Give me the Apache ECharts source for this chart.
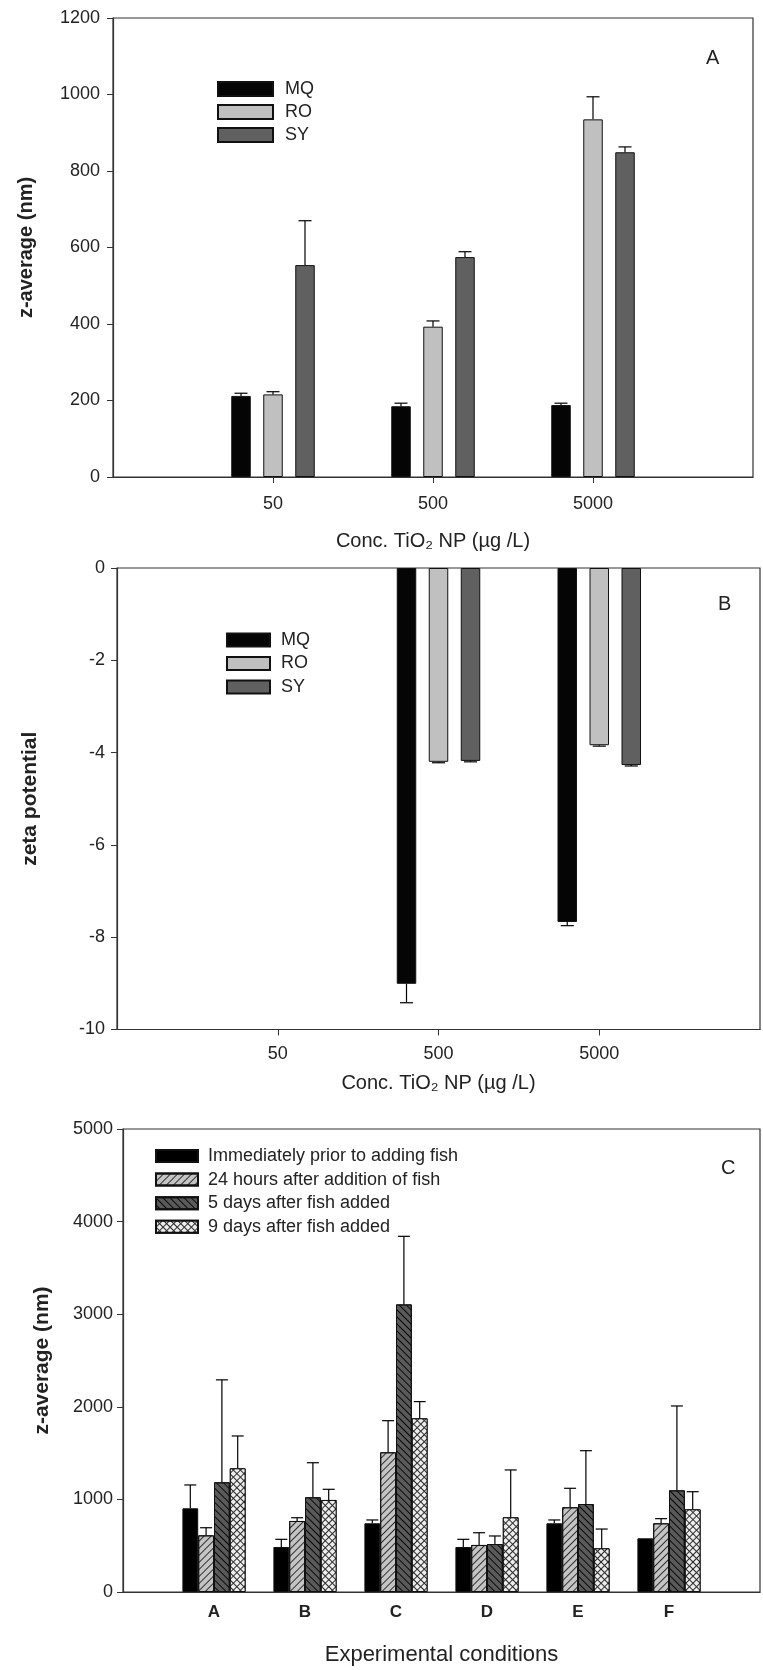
<!DOCTYPE html>
<html><head><meta charset="utf-8">
<script src="https://cdn.jsdelivr.net/npm/echarts@6/dist/echarts.min.js"></script>
<style>html,body{margin:0;padding:0;background:#fff}#c{width:763px;height:1670px}</style>
</head><body><div id="c"></div>
<script>
// ---------- Panel A: z-average vs concentration ----------
const concCategories = ['', '50', '500', '5000', ''];
const waterNames = ['MQ', 'RO', 'SY'];
const zAvgMQ    = [null, 212, 185, 188, null];
const zAvgMQErr = [null, 7, 8, 5, null];
const zAvgRO    = [null, 216, 393, 935, null];
const zAvgROErr = [null, 7, 15, 59, null];
const zAvgSY    = [null, 554, 575, 849, null];
const zAvgSYErr = [null, 116, 14, 14, null];

// ---------- Panel B: zeta potential ----------
const zetaMQ    = [null, null, -9.01, -7.67, null];
const zetaMQErr = [null, null, 0.41, 0.08, null];
const zetaRO    = [null, null, -4.20, -3.84, null];
const zetaROErr = [null, null, 0.02, 0.02, null];
const zetaSY    = [null, null, -4.18, -4.27, null];
const zetaSYErr = [null, null, 0.02, 0.02, null];

// ---------- Panel C: z-average over time ----------
const condCategories = ['', 'A', 'B', 'C', 'D', 'E', 'F', ''];
const timeNames = ['Immediately prior to adding fish', '24 hours after addition of fish', '5 days after fish added', '9 days after fish added'];
const tImmediate    = [null, 904, 486, 742, 486, 742, 580, null];
const tImmediateErr = [null, 252, 83, 36, 83, 36, null, null];
const t24h          = [null, 612, 767, 1509, 508, 915, 742, null];
const t24hErr       = [null, 82, 35, 341, 132, 205, 50, null];
const t5d           = [null, 1185, 1023, 3106, 518, 950, 1098, null];
const t5dErr        = [null, 1106, 373, 735, 87, 576, 911, null];
const t9d           = [null, 1336, 994, 1876, 807, 472, 893, null];
const t9dErr        = [null, 349, 115, 180, 511, 208, 190, null];

const FONT = "'Liberation Sans', Arial, sans-serif";
const TXT = '#222';
const AX = '#333';

function errSeries(vals, errs, xi, offset, cap) {
  const data = [];
  vals.forEach((v, i) => { if (v != null && errs[i] != null) data.push([i, v, errs[i]]); });
  return {
    type: 'custom', xAxisIndex: xi, yAxisIndex: xi, silent: true, z: 5,
    encode: {x: 0, y: 1},
    data: data,
    renderItem: function (params, api) {
      const i = api.value(0), v = api.value(1), e = api.value(2);
      const base = api.coord([i, v]);
      const tip = api.coord([i, v < 0 ? v - e : v + e]);
      const x = base[0] + offset;
      const st = {stroke: '#000', lineWidth: 1.2};
      return {type: 'group', children: [
        {type: 'line', shape: {x1: x, y1: base[1], x2: x, y2: tip[1]}, style: st},
        {type: 'line', shape: {x1: x - cap / 2, y1: tip[1], x2: x + cap / 2, y2: tip[1]}, style: st}
      ]};
    }
  };
}

function barSeries(name, vals, xi, color, bw, gap, decal) {
  const s = {
    type: 'bar', name: name, xAxisIndex: xi, yAxisIndex: xi, data: vals,
    barWidth: bw, barGap: gap,
    itemStyle: {color: color, borderColor: '#111', borderWidth: 1}
  };
  if (decal) s.itemStyle.decal = decal;
  return s;
}

function yAxisBase(gi, min, max, interval, name, nameGap, nameSize, labelMargin) {
  return {
    gridIndex: gi, type: 'value', min: min, max: max, interval: interval,
    name: name, nameLocation: 'middle', nameGap: nameGap,
    nameTextStyle: {fontFamily: FONT, fontSize: nameSize, fontWeight: 'bold', color: TXT},
    axisLine: {show: true, lineStyle: {color: AX, width: 1.2}},
    axisTick: {show: true, length: 6, lineStyle: {color: AX}},
    axisLabel: {fontFamily: FONT, fontSize: 18, color: TXT, margin: labelMargin, formatter: v => String(v)},
    splitLine: {show: false}
  };
}

const colMQ = '#050505', colRO = '#c0c0c0', colSY = '#606060';

const decal24 = {symbol: 'rect', symbolSize: 1, color: 'rgba(20,20,20,0.85)', dashArrayX: [1, 0], dashArrayY: [1, 4], rotation: -Math.PI / 4};
const decal5d = {symbol: 'rect', symbolSize: 1, color: 'rgba(0,0,0,0.9)', dashArrayX: [1, 0], dashArrayY: [1, 4], rotation: Math.PI / 4};
const decal9d = {symbol: 'rect', symbolSize: 1, color: '#ededed', dashArrayX: [4, 1], dashArrayY: [4, 1], rotation: Math.PI / 4};

const bwA = 19.5, gapA = 12.5;
const offA = (bwA + gapA);
const bwC = 15.8;

const option = {
  animation: false,
  backgroundColor: '#fff',
  textStyle: {fontFamily: FONT},
  grid: [
    {left: 113, top: 18, width: 640, height: 459, show: true, borderColor: AX, borderWidth: 1.2, backgroundColor: 'transparent'},
    {left: 117, top: 568, width: 643, height: 461.5, show: true, borderColor: AX, borderWidth: 1.2, backgroundColor: 'transparent'},
    {left: 123, top: 1129, width: 647, height: 463, show: true, borderColor: AX, borderWidth: 1.2, backgroundColor: 'transparent'}
  ],
  xAxis: [
    {gridIndex: 0, type: 'category', data: concCategories, boundaryGap: false,
     name: 'Conc. TiO\u2082 NP (\u00b5g /L)', nameLocation: 'middle', nameGap: 54,
     nameTextStyle: {fontFamily: FONT, fontSize: 20, color: TXT},
     axisLine: {lineStyle: {color: AX, width: 1.2}},
     axisTick: {show: true, length: 6, interval: (i, v) => v !== '', lineStyle: {color: AX}},
     axisLabel: {fontFamily: FONT, fontSize: 18, color: TXT, margin: 18, interval: 0}},
    {gridIndex: 1, type: 'category', data: concCategories, boundaryGap: false,
     name: 'Conc. TiO\u2082 NP (\u00b5g /L)', nameLocation: 'middle', nameGap: 44,
     nameTextStyle: {fontFamily: FONT, fontSize: 20, color: TXT},
     axisLine: {onZero: false, lineStyle: {color: AX, width: 1.2}},
     axisTick: {show: true, length: 6, interval: (i, v) => v !== '', lineStyle: {color: AX}},
     axisLabel: {fontFamily: FONT, fontSize: 18, color: TXT, margin: 16, interval: 0}},
    {gridIndex: 2, type: 'category', data: condCategories, boundaryGap: false,
     name: 'Experimental conditions', nameLocation: 'middle', nameGap: 52,
     nameTextStyle: {fontFamily: FONT, fontSize: 22, color: TXT},
     axisLine: {lineStyle: {color: AX, width: 1.2}},
     axisTick: {show: false},
     axisLabel: {fontFamily: FONT, fontSize: 17, fontWeight: 'bold', color: TXT, margin: 12, interval: 0}}
  ],
  yAxis: [
    yAxisBase(0, 0, 1200, 200, 'z-average (nm)', 77, 20, 13),
    yAxisBase(1, -10, 0, 2, 'zeta potential', 76, 21, 12),
    yAxisBase(2, 0, 5000, 1000, 'z-average (nm)', 70, 21, 10)
  ],
  legend: [
    {orient: 'vertical', left: 212, top: 75, itemWidth: 55, itemHeight: 14, itemGap: 5,
     icon: 'rect', data: waterNames, selectedMode: false,
     textStyle: {fontFamily: FONT, fontSize: 18, color: TXT, lineHeight: 18, padding: [0, 0, 0, 7]}},
    {orient: 'vertical', left: 221, top: 626, itemWidth: 43, itemHeight: 13, itemGap: 5.5,
     icon: 'rect', data: waterNames, selectedMode: false,
     textStyle: {fontFamily: FONT, fontSize: 18, color: TXT, lineHeight: 18, padding: [0, 0, 0, 6]}},
    {orient: 'vertical', left: 150, top: 1142, itemWidth: 42, itemHeight: 12, itemGap: 5.6,
     icon: 'rect', data: timeNames, selectedMode: false,
     textStyle: {fontFamily: FONT, fontSize: 18, color: TXT, lineHeight: 18, padding: [0, 0, 0, 5]}}
  ],
  graphic: [
    {type: 'text', left: 706, top: 48, style: {text: 'A', font: '20px ' + FONT, fill: TXT}},
    {type: 'text', left: 718, top: 594, style: {text: 'B', font: '20px ' + FONT, fill: TXT}},
    {type: 'text', left: 721, top: 1158, style: {text: 'C', font: '20px ' + FONT, fill: TXT}}
  ],
  series: [
    barSeries('MQ', zAvgMQ, 0, colMQ, bwA, gapA / bwA * 100 + '%'),
    barSeries('RO', zAvgRO, 0, colRO, bwA, gapA / bwA * 100 + '%'),
    barSeries('SY', zAvgSY, 0, colSY, bwA, gapA / bwA * 100 + '%'),
    errSeries(zAvgMQ, zAvgMQErr, 0, -offA, 13),
    errSeries(zAvgRO, zAvgROErr, 0, 0, 13),
    errSeries(zAvgSY, zAvgSYErr, 0, offA, 13),

    barSeries('MQ', zetaMQ, 1, colMQ, bwA, gapA / bwA * 100 + '%'),
    barSeries('RO', zetaRO, 1, colRO, bwA, gapA / bwA * 100 + '%'),
    barSeries('SY', zetaSY, 1, colSY, bwA, gapA / bwA * 100 + '%'),
    errSeries(zetaMQ, zetaMQErr, 1, -offA, 13),
    errSeries(zetaRO, zetaROErr, 1, 0, 13),
    errSeries(zetaSY, zetaSYErr, 1, offA, 13),

    barSeries(timeNames[0], tImmediate, 2, '#000', bwC, '0%'),
    barSeries(timeNames[1], t24h, 2, '#c4c4c4', bwC, '0%', decal24),
    barSeries(timeNames[2], t5d, 2, '#5a5a5a', bwC, '0%', decal5d),
    barSeries(timeNames[3], t9d, 2, '#2a2a2a', bwC, '0%', decal9d),
    errSeries(tImmediate, tImmediateErr, 2, -1.5 * bwC, 12),
    errSeries(t24h, t24hErr, 2, -0.5 * bwC, 12),
    errSeries(t5d, t5dErr, 2, 0.5 * bwC, 12),
    errSeries(t9d, t9dErr, 2, 1.5 * bwC, 12)
  ]
};

const chart = echarts.init(document.getElementById('c'), null, {renderer: 'canvas', width: 763, height: 1670});
chart.setOption(option);
</script>
</body></html>
